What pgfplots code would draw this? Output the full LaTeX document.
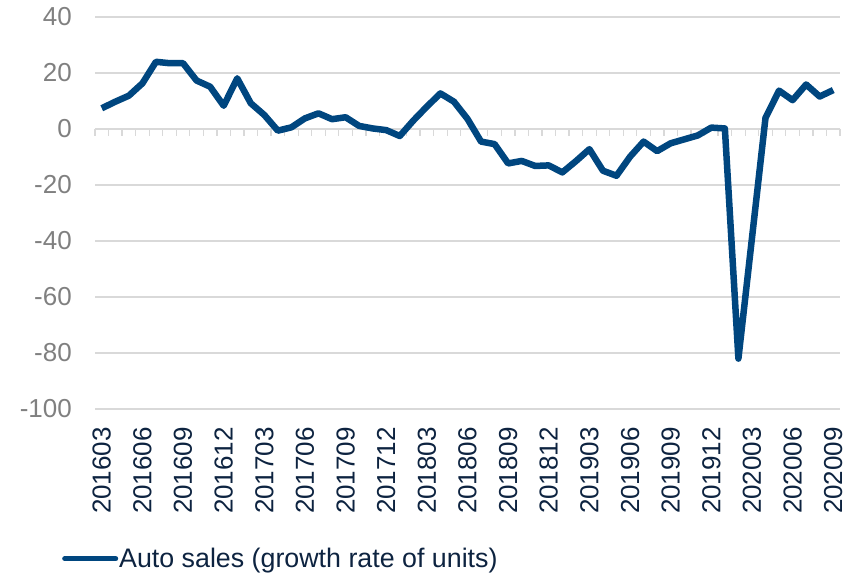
\documentclass[border=0pt]{standalone}
\usepackage{pgfplots}
\pgfplotsset{compat=1.18}
\usepackage{fontspec}
\setmainfont{Liberation Sans}
\definecolor{linecol}{RGB}{0,70,127}
\definecolor{labnavy}{RGB}{13,35,64}
\definecolor{labgray}{RGB}{128,128,128}
\definecolor{gridgray}{RGB}{217,217,217}
\begin{document}
\begin{tikzpicture}
\useasboundingbox (0,0) rectangle (854bp,575bp);
\begin{axis}[
  at={(95bp,166bp)}, anchor=south west,
  scale only axis, width=745bp, height=392bp,
  xmin=-0.5, xmax=54.5, ymin=-100, ymax=40,
  ytick={-100,-80,...,40},
  xtick={0,3,...,54},
  xticklabels={201603,201606,201609,201612,201703,201706,201709,201712,201803,201806,201809,201812,201903,201906,201909,201912,202003,202006,202009},
  axis line style={draw=none},
  major tick length=0pt,
  ymajorgrids, grid style={gridgray, line width=1.2bp},
  tick label style={font=\fontsize{26bp}{30bp}\selectfont},
  yticklabel style={text=labgray, anchor=east, inner sep=0pt, xshift=-23bp},
  xticklabel style={text=labnavy, rotate=90, anchor=east, inner sep=0pt},
  xticklabel shift=18bp,
  /pgf/number format/assume math mode=true,
  clip=false,
  legend style={at={(axis description cs:-0.0443,-0.382)}, anchor=west, draw=none, fill=none, inner sep=0pt, font=\fontsize{26.8bp}{30bp}\selectfont, text=labnavy, nodes={inner sep=1bp}},
  legend image code/.code={\draw[#1, line width=5bp, line cap=round] (2.5bp,0bp) -- (53.5bp,0bp);},
]
\pgfplotsinvokeforeach{0,...,55}{
  \draw[gridgray, line width=1.2bp] (axis cs:#1-0.5,0) -- ([yshift=-7.5bp]axis cs:#1-0.5,0);
}
\addplot[linecol, line width=6.5bp, line join=round] table {
x y
0 7.4
1 9.75
2 11.9
3 16.3
4 24.0
5 23.5
6 23.5
7 17.3
8 15.1
9 8.3
10 18.1
11 9.2
12 5.0
13 -0.6
14 0.6
15 3.8
16 5.6
17 3.5
18 4.2
19 1.1
20 0.2
21 -0.4
22 -2.5
23 3.0
24 8.0
25 12.7
26 9.75
27 3.6
28 -4.5
29 -5.4
30 -12.3
31 -11.4
32 -13.2
33 -13.0
34 -15.5
35 -11.5
36 -7.2
37 -14.9
38 -16.7
39 -9.9
40 -4.5
41 -7.9
42 -5.1
43 -3.7
44 -2.3
45 0.5
46 0.2
47 -82
48 -39
49 4.0
50 13.7
51 10.3
52 15.9
53 11.6
54 13.9
};
\addlegendentry{Auto sales (growth rate of units)}
\end{axis}
\end{tikzpicture}
\end{document}
